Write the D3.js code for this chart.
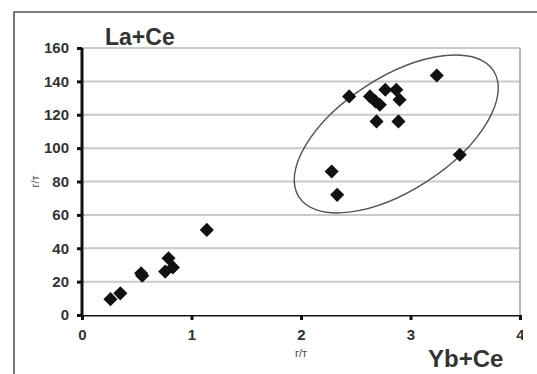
<!DOCTYPE html>
<html>
<head>
<meta charset="utf-8">
<script src="https://cdn.jsdelivr.net/npm/d3@7"></script>
<style>
  html, body { margin: 0; padding: 0; background: #fff; }
  svg { display: block; font-family: Arial, "Liberation Sans", sans-serif; }
</style>
</head>
<body>
<svg id="chart" width="537" height="374"></svg>
<script>
// Yb+Ce (г/т) versus La+Ce (г/т)
const ybCe = [0.26, 0.35, 0.54, 0.55, 0.76, 0.79, 0.83, 1.14,
              2.28, 2.33, 2.44, 2.63, 2.68, 2.72, 2.77, 2.87, 2.90, 2.69, 2.89, 3.24, 3.45];
const laCe = [9.5, 13, 25, 23.5, 26, 34, 28.5, 51,
              86, 72, 131, 131, 128, 126, 135, 135, 129, 116, 116, 143.5, 96];
const xTicks = [0, 1, 2, 3, 4];
const yTicks = [0, 20, 40, 60, 80, 100, 120, 140, 160];
// grouping ellipse: centre in data units, semi-axes in pixels, tilt in degrees
const ellipseCentre = [2.87, 108.5];
const ellipseAxes = [116, 56.5];
const ellipseTilt = -33;

const svg = d3.select("#chart");
const x = d3.scaleLinear().domain([0, 4]).range([82, 520]);
const y = d3.scaleLinear().domain([0, 160]).range([315, 48]);

// outer frame
svg.append("path")
  .attr("d", "M14,374 L14,12 L537,12")
  .attr("fill", "none").attr("stroke", "#555").attr("stroke-width", 1.6);

// horizontal gridlines
svg.append("g").selectAll("line").data(yTicks.filter(d => d > 0)).join("line")
  .attr("x1", x(0)).attr("x2", x(4))
  .attr("y1", d => y(d)).attr("y2", d => y(d))
  .attr("stroke", "#c9c9c9").attr("stroke-width", 2);

// right border of plot area
svg.append("line")
  .attr("x1", x(4)).attr("x2", x(4)).attr("y1", y(160)).attr("y2", y(0))
  .attr("stroke", "#b5b5b5").attr("stroke-width", 2);

// axes
const fmt = d3.format("d");
const yAxis = d3.axisLeft(y).tickValues(yTicks).tickFormat(fmt).tickSize(5).tickPadding(8);
const xAxis = d3.axisBottom(x).tickValues(xTicks).tickFormat(fmt).tickSize(5).tickPadding(9);

const gy = svg.append("g").attr("transform", `translate(${x(0)},0)`).call(yAxis);
const gx = svg.append("g").attr("transform", `translate(0,${y(0)})`).call(xAxis);

[gx, gy].forEach(g => {
  g.select(".domain").attr("stroke", "#111").attr("stroke-width", 3);
  g.selectAll(".tick line").attr("stroke", "#111").attr("stroke-width", 3);
  g.selectAll(".tick text")
    .attr("fill", "#333").attr("font-size", 15).attr("font-weight", "bold");
});
gx.select(".domain").attr("d", `M${x(0)},0H${x(4)}`);
gy.select(".domain").attr("d", `M0,${y(0)}V${y(160)}`);

// last x label is cut at the frame edge
svg.append("clipPath").attr("id", "xclip")
  .append("rect").attr("x", 0).attr("y", 0).attr("width", 523).attr("height", 374);
gx.attr("clip-path", "url(#xclip)");

// unit labels
svg.append("text")
  .attr("x", x(2)).attr("y", 357)
  .attr("text-anchor", "middle").attr("font-size", 11).attr("fill", "#444")
  .text("г/т");
svg.append("text")
  .attr("transform", `translate(39,${y(80)}) rotate(-90)`)
  .attr("text-anchor", "middle").attr("font-size", 11).attr("fill", "#444")
  .text("г/т");

// titles
svg.append("text")
  .attr("x", 105).attr("y", 45)
  .attr("font-size", 23).attr("font-weight", "bold").attr("fill", "#333")
  .text("La+Ce");
svg.append("text")
  .attr("x", 428).attr("y", 367)
  .attr("font-size", 24).attr("font-weight", "bold").attr("fill", "#333")
  .text("Yb+Ce");

// grouping ellipse
svg.append("ellipse")
  .attr("cx", 0).attr("cy", 0)
  .attr("rx", ellipseAxes[0]).attr("ry", ellipseAxes[1])
  .attr("transform", `translate(${x(ellipseCentre[0])},${y(ellipseCentre[1])}) rotate(${ellipseTilt})`)
  .attr("fill", "none").attr("stroke", "#555").attr("stroke-width", 1.4);

// diamond markers
const diamond = d3.symbol().type(d3.symbolSquare).size(100);
svg.append("g").selectAll("path").data(d3.range(ybCe.length)).join("path")
  .attr("d", diamond)
  .attr("transform", i => `translate(${x(ybCe[i])},${y(laCe[i])}) rotate(45)`)
  .attr("fill", "#111");
</script>
</body>
</html>
